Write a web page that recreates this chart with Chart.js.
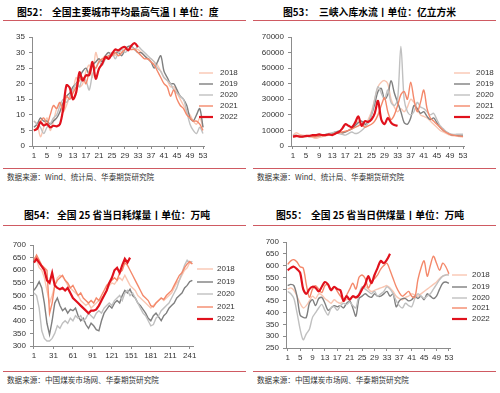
<!DOCTYPE html>
<html><head><meta charset="utf-8">
<script src="https://cdn.jsdelivr.net/npm/chart.js@4.4.0/dist/chart.umd.min.js"></script>
<style>
body{margin:0;background:#fff;width:500px;height:393px;position:relative;overflow:hidden;font-family:"Noto Sans CJK SC",sans-serif}
.t{position:absolute;font-weight:700;font-size:9.8px;line-height:12px;color:#000;white-space:nowrap}
.rl{position:absolute;height:1px;background:#cf5a62}
.src{position:absolute;font-size:7.6px;line-height:10px;color:#333;white-space:nowrap}
canvas{position:absolute}
</style></head><body>
<div class="t" style="left:17px;top:6px">图52：</div><div class="t" style="left:52px;top:6px">全国主要城市平均最高气温丨单位：度</div>
<div class="t" style="left:283px;top:6px">图53：</div><div class="t" style="left:319px;top:6px">三峡入库水流丨单位：亿立方米</div>
<div class="t" style="left:24px;top:209px">图54：</div><div class="t" style="left:57px;top:209px">全国 25 省当日耗煤量丨单位：万吨</div>
<div class="t" style="left:276px;top:209px">图55：</div><div class="t" style="left:311px;top:209px">全国 25 省当日供煤量丨单位：万吨</div>
<div class="rl" style="left:3px;top:20px;width:243px"></div><div class="rl" style="left:253px;top:20px;width:243px"></div>
<div class="rl" style="left:3px;top:225px;width:243px"></div><div class="rl" style="left:253px;top:225px;width:243px"></div>
<div class="rl" style="left:3px;top:168px;width:243px"></div><div class="rl" style="left:253px;top:168px;width:243px"></div>
<div class="rl" style="left:3px;top:371px;width:243px"></div><div class="rl" style="left:253px;top:371px;width:243px"></div>
<div class="src" style="left:7px;top:172px">数据来源：Wind、统计局、华泰期货研究院</div>
<div class="src" style="left:257px;top:172px">数据来源：Wind、统计局、华泰期货研究院</div>
<div class="src" style="left:7px;top:375px">数据来源：中国煤炭市场网、华泰期货研究院</div>
<div class="src" style="left:257px;top:375px">数据来源：中国煤炭市场网、华泰期货研究院</div>
<canvas id="c1" width="250" height="143" style="left:0;top:25px"></canvas>
<canvas id="c2" width="250" height="143" style="left:250px;top:25px"></canvas>
<canvas id="c3" width="250" height="143" style="left:0;top:228px"></canvas>
<canvas id="c4" width="250" height="143" style="left:250px;top:228px"></canvas>
<script>
const years=['2018','2019','2020','2021','2022'];
const weeks=Array.from({length:53},(_,i)=>i+1);
const days=Array.from({length:62},(_,i)=>1+4*i);
const weekTicks=[1,5,9,13,17,21,25,29,33,37,41,45,49,53];
const dayTicks=[1,31,61,91,121,151,181,211,241];

// 图52 平均最高气温（度）
const temp2018=[8,7,3,6,9,5,8,12,14,11,13,16,18,22,19,20,24,26,22,30,27,28,29,28,30,29,31,30,31,32,31,31,31,30,29,28,28,27,26,24,22,21,19,19,17,15,13,11,10,8,7,9,6];
const temp2019=[6,7,9,8,8,7,8,9,11,14,16,17,19,20,22,24,25,23,26,27,28,27,29,30,29,30,30,29,31,32,32,31,30,30,29,28,27,25,27,29,24,22,20,20,18,16,15,13,9,8,10,12,6];
const temp2020=[8,7,6,4,6,7,9,10,13,15,14,16,18,20,19,22,21,18,23,25,27,26,28,29,30,28,30,31,30,31,32,31,32,31,30,29,28,27,25,24,22,21,20,18,17,16,15,11,7,5,4,6,4];
const temp2021=[5,6,8,9,7,10,13,12,14,11,16,15,17,19,21,22,20,24,26,25,27,28,28,29,29,30,29,30,31,31,31,31,30,29,28,28,27,26,24,22,20,19,16,18,15,13,12,10,9,8,8,7,5];
const temp2022=[5,5.5,7.7,6.6,7,6,6.5,6.3,7,12,19.5,18.7,15,17.3,23.7,21,22.7,22.7,27,21.6,24.8,26.4,28.6,28,29.6,31,30.7,31.5,31.8,30.7,32.3,33,31.8];

// 图53 三峡入库水流
const flow2018=[7000,8500,7500,7000,6500,6000,5500,5000,5500,6000,6500,7000,7500,8000,8500,8000,9000,10000,12000,14000,16000,14000,13000,17000,22000,30000,38000,41000,42000,40000,30000,25000,22000,24000,22000,25000,30000,28000,24000,20000,19000,18000,16000,14000,12000,10000,9000,8000,7000,6500,6500,6000,6000];
const flow2019=[6500,6500,6000,6000,6500,6000,6500,6000,6500,7000,7500,7500,8000,9000,9500,8500,9000,10000,11000,13000,15000,16000,14000,15000,20000,27000,35000,37000,30000,33000,42000,34000,28000,22000,15000,14000,18000,26000,24000,21000,22000,19000,17000,18000,15000,12000,10000,9000,7500,7000,7000,6500,6500];
const flow2020=[7000,7000,6500,6500,6000,6500,7000,7000,7500,7000,7500,8000,8500,9000,8000,7500,7000,8000,9000,8000,8500,10000,12000,15000,20000,30000,38000,34000,30000,36000,28000,26000,30000,64000,30000,22000,20000,22000,28000,25000,24000,22000,20000,21000,17000,13000,11000,9000,8000,7500,7500,7500,7500];
const flow2021=[6000,6000,6500,6000,6000,6500,6000,6000,6500,7000,7000,7000,7500,8000,8500,9000,9500,10000,11000,12000,13000,14000,12000,13000,14000,16000,20000,26000,31000,22000,17000,20000,26000,33000,35000,30000,41000,30000,22000,28000,36000,24000,18000,16000,14000,12000,10000,8500,7500,7000,6500,6500,6000];
const flow2022=[6000,6500,6000,6000,6500,6500,7000,7000,7500,7000,7000,7500,7000,8000,9000,11000,14000,13000,12000,15000,19000,13000,16000,15500,17000,21000,29000,17000,14000,18000,15000,13500,13000];

// 图54 25省当日耗煤量（每4日取值）
const burn2018=[650,640,610,600,570,520,470,500,540,570,580,575,560,540,530,520,510,500,480,470,460,470,450,460,470,480,490,500,520,540,550,545,560,570,560,580,560,540,530,520,500,490,480,470,460,450,460,470,480,490,480,490,500,510,530,550,560,580,600,610,630,625];
const burn2019=[520,535,555,530,470,390,345,400,470,490,460,440,450,430,445,440,450,420,400,410,385,370,390,380,365,360,400,430,445,460,450,470,480,470,500,520,510,525,500,490,470,460,445,430,410,400,420,430,415,400,420,430,450,460,470,490,500,510,530,540,555,560];
const burn2020=[510,500,450,360,330,320,320,330,350,380,370,390,400,390,410,400,420,410,420,400,410,430,420,410,430,440,430,450,460,470,460,480,490,500,480,510,520,500,510,490,470,450,430,420,400,380,385,410,420,440,450,460,470,490,510,530,560,590,620,640,630,635];
const burn2021=[640,660,640,620,610,600,430,470,540,560,570,580,560,550,530,540,520,500,510,490,480,470,480,470,490,480,500,520,540,550,560,570,560,590,600,630,620,600,580,560,540,520,500,490,480,460,455,470,480,490,485,500,510,520,540,560,580,590,610,625,635,625];
const burn2022=[630,645,630,615,600,560,550,590,540,530,525,530,520,530,510,490,480,470,460,450,440,430,440,440,445,460,480,500,520,550,570,600,610,590,620,645,630,650];

// 图55 25省当日供煤量
const sup2018=[500,505,495,470,440,420,430,450,470,460,480,475,460,450,440,455,445,440,450,455,460,470,460,480,500,510,500,490,495,500,505,510,515,505,490,470,460,455,465,470,480,475,470,480,490,500,510,520,530,545,555,560,565];
const sup2019=[515,520,515,470,390,380,380,440,455,430,460,465,440,410,420,430,425,430,420,440,450,420,385,460,470,480,470,465,480,470,470,480,490,470,480,425,450,460,460,450,455,470,460,470,455,480,470,460,470,500,525,530,525];
const sup2020=[490,480,460,400,330,285,310,330,380,400,420,435,410,390,420,425,410,430,440,435,445,430,420,480,510,500,490,480,490,470,480,490,510,500,480,450,430,420,440,430,425,460,480,470,460,470,480,500,520,540,555,560,560];
const sup2021=[605,620,625,615,595,590,520,465,500,515,500,485,515,520,500,510,490,470,455,475,500,525,500,550,560,545,505,530,545,560,585,600,610,580,545,510,485,470,480,490,470,465,540,590,620,555,600,640,610,580,610,595,565];
const sup2022=[580,590,595,585,570,500,480,500,510,505,490,510,530,520,495,510,500,495,450,470,455,470,465,475,500,520,555,525,560,590,620,610,625,650];

const colors=['#f9c6b2','#7f7f7f','#c0c0c0','#f4886a','#e0111c'];
Chart.defaults.font.family='"Liberation Sans", Arial, sans-serif';
Chart.defaults.color='#333';

const fixedLegend={id:'fixedLegend',afterDraw(c,a,o){
  const ctx=c.ctx;ctx.save();ctx.font='8px "Liberation Sans", Arial';ctx.fillStyle='#333';ctx.textBaseline='middle';
  c.data.datasets.forEach((d,i)=>{const y=o.ys[i];
    ctx.strokeStyle=d.borderColor;ctx.lineWidth=d.borderWidth;ctx.beginPath();ctx.moveTo(o.x1,y);ctx.lineTo(o.x2,y);ctx.stroke();
    ctx.fillText(d.label,o.tx,y);});
  ctx.restore();}};

function sets(arrs,tension){
  return arrs.map((d,i)=>({label:years[i],data:d,borderColor:colors[i],borderWidth:i===4?2.2:1.4,pointRadius:0,tension,order:4-i,fill:false}));
}
function make(id,labels,arrs,tension,a){
  const W=250,H=143;
  new Chart(document.getElementById(id),{type:'line',
    data:{labels,datasets:sets(arrs,tension)},
    plugins:[fixedLegend],
    options:{responsive:false,animation:false,
      layout:{padding:{left:0,top:a.top,right:W-a.right,bottom:0}},
      plugins:{legend:{display:false},tooltip:{enabled:false},fixedLegend:a.leg},
      scales:{
        x:{type:'linear',min:a.xmin,max:a.xmax,
          afterBuildTicks:s=>{s.ticks=a.xt.map(v=>({value:v}))},afterFit:s=>{s.height=H-a.bottom},
          grid:{drawOnChartArea:false,color:'#8c8c8c',tickLength:3},border:{color:'#8c8c8c'},
          ticks:{autoSkip:false,maxRotation:0,padding:2,font:{size:8},callback:v=>String(v)}},
        y:{min:a.ymin,max:a.ymax,afterFit:s=>{s.width=a.left},
          grid:{drawOnChartArea:false,color:'#8c8c8c',tickLength:3},border:{color:'#8c8c8c'},
          ticks:{autoSkip:false,stepSize:a.ystep,padding:4,font:{size:8},callback:v=>String(v)}}}}
  });
}

make('c1',weeks,[temp2018,temp2019,temp2020,temp2021,temp2022],0.3,
  {left:32,right:204,top:12,bottom:121,xmin:0.4,xmax:53.3,xt:weekTicks,ymin:0,ymax:35,ystep:5,
   leg:{x1:199,x2:213,tx:220,ys:[48,59,70,81,92]}});
make('c2',weeks,[flow2018,flow2019,flow2020,flow2021,flow2022],0.3,
  {left:41,right:214,top:12,bottom:121,xmin:0.4,xmax:53.3,xt:weekTicks,ymin:0,ymax:70000,ystep:10000,
   leg:{x1:204,x2:220,tx:226,ys:[48,59,70,81,92]}});
make('c3',days,[burn2018,burn2019,burn2020,burn2021,burn2022],0,
  {left:33,right:193,top:17,bottom:118,xmin:-0.5,xmax:246,xt:dayTicks,ymin:300,ymax:700,ystep:50,
   leg:{x1:197,x2:213,tx:217,ys:[41,54,66,79,91]}});
make('c4',weeks,[sup2018,sup2019,sup2020,sup2021,sup2022],0.3,
  {left:36,right:200,top:14,bottom:120,xmin:0.45,xmax:53.35,xt:weekTicks,ymin:250,ymax:700,ystep:50,
   leg:{x1:202,x2:217,tx:222,ys:[47,59,70,80,91]}});
</script>
</body></html>
